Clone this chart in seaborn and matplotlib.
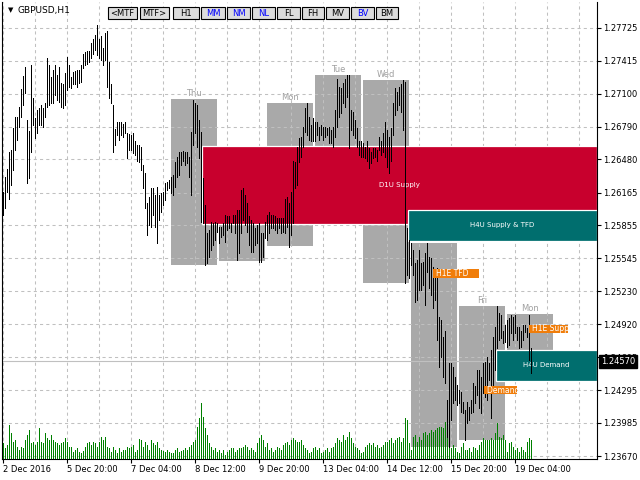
import numpy as np
import pandas as pd
import matplotlib
matplotlib.use("Agg")
import matplotlib.pyplot as plt
from matplotlib.patches import Rectangle
import matplotlib.transforms as mtransforms
import seaborn as sns

# ---------------- data (GBPUSD H1, one value per hourly bar) ----------------
high = [
    1.2617, 1.2631, 1.2639, 1.2655, 1.2657, 1.2678, 1.2688, 1.2688, 1.2698, 1.2715,
    1.2727, 1.2736, 1.2685, 1.2675, 1.2737, 1.2706, 1.2687, 1.2695, 1.2697, 1.2700,
    1.2697, 1.2701, 1.2744, 1.2737, 1.2726, 1.2733, 1.2737, 1.2728, 1.2736, 1.2720,
    1.2719, 1.2730, 1.2745, 1.2737, 1.2726, 1.2731, 1.2732, 1.2733, 1.2733, 1.2737,
    1.2748, 1.2750, 1.2751, 1.2751, 1.2758, 1.2762, 1.2766, 1.2775, 1.2762, 1.2765,
    1.2754, 1.2768, 1.2770, 1.2740, 1.2719, 1.2700, 1.2677, 1.2683, 1.2683, 1.2683,
    1.2682, 1.2683, 1.2673, 1.2672, 1.2671, 1.2673, 1.2665, 1.2662, 1.2662, 1.2660,
    1.2643, 1.2635, 1.2607, 1.2612, 1.2621, 1.2621, 1.2614, 1.2622, 1.2614, 1.2616,
    1.2617, 1.2626, 1.2627, 1.2629, 1.2631, 1.2633, 1.2646, 1.2650, 1.2655, 1.2655,
    1.2656, 1.2655, 1.2655, 1.2650, 1.2674, 1.2704, 1.2701, 1.2700, 1.2685, 1.2674,
    1.2630, 1.2605, 1.2578, 1.2581, 1.2589, 1.2588, 1.2589, 1.2588, 1.2584, 1.2584,
    1.2588, 1.2595, 1.2594, 1.2594, 1.2588, 1.2595, 1.2595, 1.2600, 1.2600, 1.2619,
    1.2621, 1.2614, 1.2607, 1.2594, 1.2591, 1.2588, 1.2583, 1.2586, 1.2588, 1.2578,
    1.2578, 1.2589, 1.2595, 1.2598, 1.2595, 1.2595, 1.2594, 1.2593, 1.2593, 1.2593,
    1.2593, 1.2611, 1.2612, 1.2607, 1.2617, 1.2647, 1.2646, 1.2660, 1.2668, 1.2669,
    1.2679, 1.2697, 1.2701, 1.2688, 1.2681, 1.2687, 1.2683, 1.2683, 1.2679, 1.2681,
    1.2679, 1.2679, 1.2678, 1.2679, 1.2676, 1.2679, 1.2695, 1.2724, 1.2717, 1.2716,
    1.2720, 1.2724, 1.2728, 1.2728, 1.2695, 1.2693, 1.2685, 1.2678, 1.2665, 1.2665,
    1.2664, 1.2660, 1.2665, 1.2659, 1.2655, 1.2659, 1.2659, 1.2657, 1.2669, 1.2665,
    1.2673, 1.2683, 1.2676, 1.2669, 1.2678, 1.2701, 1.2716, 1.2712, 1.2717, 1.2719,
    1.2723, 1.2721, 1.2583, 1.2572, 1.2569, 1.2562, 1.2550, 1.2553, 1.2562, 1.2550,
    1.2551, 1.2559, 1.2569, 1.2556, 1.2555, 1.2546, 1.2543, 1.2545, 1.2499, 1.2496,
    1.2480, 1.2486, 1.2420, 1.2455, 1.2455, 1.2451, 1.2442, 1.2434, 1.2430, 1.2428,
    1.2418, 1.2411, 1.2418, 1.2414, 1.2420, 1.2436, 1.2433, 1.2449, 1.2449, 1.2442,
    1.2455, 1.2456, 1.2461, 1.2455, 1.2468, 1.2480, 1.2489, 1.2509, 1.2503, 1.2501,
    1.2486, 1.2491, 1.2496, 1.2498, 1.2501, 1.2499, 1.2501, 1.2489, 1.2489, 1.2486,
    1.2491, 1.2491, 1.2488, 1.2501, 1.2469,
]
low = [
    1.2595, 1.2602, 1.2617, 1.2611, 1.2624, 1.2638, 1.2657, 1.2666, 1.2679, 1.2688,
    1.2700, 1.2711, 1.2626, 1.2630, 1.2655, 1.2681, 1.2668, 1.2673, 1.2681, 1.2681,
    1.2679, 1.2688, 1.2698, 1.2700, 1.2701, 1.2701, 1.2709, 1.2704, 1.2702, 1.2698,
    1.2697, 1.2700, 1.2714, 1.2717, 1.2716, 1.2719, 1.2719, 1.2717, 1.2720, 1.2721,
    1.2735, 1.2737, 1.2738, 1.2740, 1.2744, 1.2748, 1.2752, 1.2747, 1.2744, 1.2742,
    1.2737, 1.2742, 1.2717, 1.2706, 1.2701, 1.2655, 1.2662, 1.2671, 1.2666, 1.2671,
    1.2669, 1.2673, 1.2649, 1.2657, 1.2657, 1.2654, 1.2652, 1.2647, 1.2646, 1.2638,
    1.2621, 1.2602, 1.2576, 1.2586, 1.2584, 1.2595, 1.2584, 1.2569, 1.2591, 1.2598,
    1.2605, 1.2610, 1.2619, 1.2621, 1.2616, 1.2614, 1.2622, 1.2631, 1.2633, 1.2643,
    1.2647, 1.2643, 1.2645, 1.2631, 1.2614, 1.2662, 1.2673, 1.2660, 1.2649, 1.2589,
    1.2588, 1.2548, 1.2550, 1.2556, 1.2562, 1.2567, 1.2572, 1.2579, 1.2569, 1.2575,
    1.2576, 1.2570, 1.2581, 1.2583, 1.2579, 1.2588, 1.2578, 1.2553, 1.2559, 1.2578,
    1.2591, 1.2586, 1.2579, 1.2567, 1.2560, 1.2560, 1.2567, 1.2569, 1.2551, 1.2551,
    1.2556, 1.2574, 1.2572, 1.2578, 1.2583, 1.2583, 1.2581, 1.2578, 1.2583, 1.2578,
    1.2579, 1.2578, 1.2584, 1.2565, 1.2576, 1.2588, 1.2621, 1.2624, 1.2646, 1.2650,
    1.2660, 1.2674, 1.2671, 1.2666, 1.2665, 1.2665, 1.2665, 1.2671, 1.2666, 1.2671,
    1.2666, 1.2669, 1.2671, 1.2664, 1.2664, 1.2660, 1.2669, 1.2679, 1.2688, 1.2692,
    1.2701, 1.2698, 1.2707, 1.2659, 1.2676, 1.2671, 1.2668, 1.2660, 1.2652, 1.2650,
    1.2650, 1.2649, 1.2647, 1.2640, 1.2645, 1.2649, 1.2650, 1.2647, 1.2657, 1.2652,
    1.2655, 1.2650, 1.2641, 1.2635, 1.2647, 1.2671, 1.2690, 1.2695, 1.2700, 1.2693,
    1.2676, 1.2531, 1.2539, 1.2536, 1.2548, 1.2539, 1.2513, 1.2515, 1.2524, 1.2524,
    1.2529, 1.2510, 1.2541, 1.2526, 1.2520, 1.2507, 1.2515, 1.2477, 1.2451, 1.2461,
    1.2442, 1.2436, 1.2385, 1.2376, 1.2401, 1.2417, 1.2420, 1.2415, 1.2417, 1.2409,
    1.2408, 1.2382, 1.2398, 1.2401, 1.2408, 1.2409, 1.2417, 1.2425, 1.2413, 1.2408,
    1.2427, 1.2423, 1.2420, 1.2439, 1.2403, 1.2433, 1.2449, 1.2469, 1.2477, 1.2479,
    1.2474, 1.2475, 1.2470, 1.2472, 1.2484, 1.2477, 1.2484, 1.2477, 1.2469, 1.2470,
    1.2477, 1.2485, 1.2480, 1.2458, 1.2446,
]
volume = [
    1570, 1070, 1400, 3400, 2570, 1730, 1900, 1230, 900, 1230, 1070,
    1900, 2400, 2900, 1570, 1730, 1400, 1730, 3070, 1730, 1570, 2570, 2070, 1900,
    2400, 1900, 1730, 1570, 1400, 1570, 1730, 2070, 1730, 1230,
    1230, 730, 900, 1070, 730, 570, 830, 1230, 1570, 1730, 1400, 1730,
    1570, 1230, 1730, 2230, 1900, 2230, 1230, 1070, 730, 1230, 900, 570, 1070, 730, 900,
    900, 1230, 1070, 1230, 1400, 730, 900, 1970, 1900, 1230, 1730, 1400, 900,
    1900, 1570, 1400, 1730, 1070, 900, 830, 730, 900, 730, 630, 570,
    900, 1070, 730, 830, 900, 1070, 900, 1230, 1400, 1730,
    1900, 3230, 4070, 5570, 4230, 3070, 2400, 1570, 1230,
    900, 1070, 730, 900, 570, 900, 400, 730, 900, 1070,
    1070, 730, 900, 1070, 1070, 1230, 1400, 1230, 900, 1070, 900, 730,
    1570, 2070, 2400, 1900, 1230, 1570, 900, 1070, 730, 900, 1230, 1070,
    900, 1400, 1570, 1730, 1400, 1900, 2070, 1900, 1730, 1730, 1900, 1400,
    1070, 900, 570, 730, 1070, 1230, 900, 1070, 570, 730, 900, 1070, 730,
    1070, 1230, 1570, 2070, 1900, 1730, 2400, 1900, 2230, 2730, 2070, 1570,
    1230, 1070, 900, 570, 730, 1230, 1400, 1570, 1400, 1570, 1230, 1400, 1070,
    1230, 1400, 1730, 1730, 1900, 2070, 1570, 1900, 2070, 2230, 1730, 2070, 4070, 3900,
    1570, 900, 2230, 2400, 1730, 2230, 1900, 2570, 2730, 2400, 2570, 2900, 2730, 2900,
    3070, 3230, 3230, 3070, 3730, 2900, 2070, 1070,
    1400, 1070, 730, 570, 1230, 1570, 900, 900, 1070, 730, 1230, 1070, 900, 1400,
    1730, 2070, 1900, 1900, 1900, 2070, 1900, 2570, 3570, 2230, 2070, 2400, 1900, 730,
    1570, 1730, 1230, 900, 1070, 730, 1230, 900, 730, 1730, 2070, 1900,
]
bar_index = list(range(len(high)))

price_ticks = [1.27725, 1.27415, 1.27100, 1.26790, 1.26480, 1.26165, 1.25855,
               1.25545, 1.25230, 1.24920, 1.24605, 1.24295, 1.23985, 1.23670]
time_tick_bars = [0, 32, 64, 96, 128, 160, 192, 224, 256]
time_tick_labels = ["2 Dec 2016", "5 Dec 20:00", "7 Dec 04:00", "8 Dec 12:00",
                    "9 Dec 20:00", "13 Dec 04:00", "14 Dec 12:00", "15 Dec 20:00",
                    "19 Dec 04:00"]

# daily range boxes
day_names = ["Thu", "Fri", "Mon", "Tue", "Wed", "Thu", "Fri", "Mon"]
day_first_bar = [84, 108, 132, 156, 180, 204, 228, 252]
day_last_bar = [107, 131, 155, 179, 203, 227, 251, 275]
day_top = [1.2705, 1.2621, 1.2701, 1.2728, 1.2723, 1.2569, 1.2509, 1.2502]
day_bottom = [1.2548, 1.2552, 1.2566, 1.2650, 1.2531, 1.2376, 1.2382, 1.2468]

# supply / demand zones (extend to the right edge)
zone_names = ["D1U Supply", "H4U Supply & TFD", "H4U Demand"]
zone_start_bar = [99.5, 202.5, 246.5]
zone_top = [1.2661, 1.2600, 1.2468]
zone_bottom = [1.2587, 1.2571, 1.2438]
zone_colors = ["#C8002D", "#006E6E", "#006E6E"]

# small orange tags
tag_names = ["H1E TFD", "H1E Supply", "Demand &"]
tag_start_bar = [215, 263, 240.5]
tag_end_bar = [238, 282.5, 257]
tag_top = [1.2544, 1.2491, 1.2433]
tag_bottom = [1.2536, 1.2484, 1.2426]

last_price = 1.24570

buttons = ["<MTF", "MTF>", "H1", "MM", "NM", "NL", "FL", "FH", "MV", "BV", "BM"]
button_on = [False, False, False, True, True, True, False, False, False, True, False]

# ---------------- figure ----------------
sns.set_theme(style="white")
plt.rcParams['font.family'] = ['DejaVu Sans']

W, H = 640, 480
fig = plt.figure(figsize=(6.4, 4.8), dpi=100)
fig.patch.set_facecolor("white")

L, R, T, B = 2, 597, 2, 459
pos = [L / W, 1 - B / H, (R - L) / W, (B - T) / H]
ax = fig.add_axes(pos)
vax = fig.add_axes(pos, sharex=ax)
pax = fig.add_axes(pos, sharex=ax, sharey=ax)

XMIN, XMAX = -0.5, 297
YLO, YHI = 1.2364327, 1.2797106
ONE_PX = 72.0 / 100.0

ax.set_facecolor("white")
grid_kw = dict(color="#C0C0C0", linestyle=(0, (3, 3)), linewidth=0.75)

# day boxes (under grid)
for name, a, b, t, bt in zip(day_names, day_first_bar, day_last_bar, day_top, day_bottom):
    ax.add_patch(Rectangle((a, bt), b - a, t - bt, facecolor="#A9A9A9",
                           edgecolor="none", zorder=0.2))
    ax.annotate(name, xy=((a + b) / 2, t), xytext=(0, 0.8), textcoords="offset points",
                ha="center", va="bottom", fontsize=6, color="#A0A0A0", zorder=0.3)

ax.axhline(last_price, color="#C0C0C0", linewidth=0.8, zorder=0.9)

# zones (over grid)
for name, s, t, bt, c in zip(zone_names, zone_start_bar, zone_top, zone_bottom, zone_colors):
    ax.add_patch(Rectangle((s, bt), XMAX - s, t - bt, facecolor=c,
                           edgecolor="white", linewidth=0.9, zorder=1.0))
    ax.text((s + XMAX) / 2, (t + bt) / 2, name, ha="center", va="center",
            fontsize=5, color="white", zorder=1.1)

# volume bars (seaborn histogram weighted by tick volume, green, 1 px wide)
vdf = pd.DataFrame({"bar": bar_index, "volume": volume})
sns.histplot(data=vdf, x="bar", weights="volume", discrete=True, shrink=0.5,
             element="bars", fill=True, color="#008000", alpha=1.0, linewidth=0,
             ax=vax)
for p in vax.patches:
    p.set_facecolor((0.0, 0.5, 0.0, 1.0))
    p.set_edgecolor("none")
    p.set_antialiased(False)
vax.set_ylim(0, 45700)
vax.set_axis_off()

# price bars
pax.vlines(bar_index, low, high, colors="black", linewidth=ONE_PX, antialiased=False, zorder=2)
for name, a, b, t, bt in zip(tag_names, tag_start_bar, tag_end_bar, tag_top, tag_bottom):
    rect = Rectangle((a, bt), b - a, t - bt, facecolor="#F07D0A", edgecolor="none", zorder=3)
    pax.add_patch(rect)
    txt = pax.text(a + 1.5, (t + bt) / 2, name, ha="left", va="center", fontsize=5.5,
                   color="white", zorder=3.1)
    txt.set_clip_path(rect)
pax.set_axis_off()

# axes ranges, ticks, grid
ax.set_xlim(XMIN, XMAX)
ax.set_ylim(YLO, YHI)
ax.yaxis.tick_right()
ax.set_yticks(price_ticks)
ax.set_yticklabels([f"{p:.5f}" for p in price_ticks])
ax.set_xticks(time_tick_bars)
ax.set_xticklabels(time_tick_labels)
ax.set_xticks(list(range(16, 297, 16)), minor=True)
for lab in ax.get_xticklabels():
    lab.set_horizontalalignment("left")
ax.tick_params(axis="y", which="major", direction="out", length=3, width=0.8,
               pad=1.5, labelsize=6, colors="black", right=True, left=False)
ax.tick_params(axis="x", which="major", direction="out", length=3, width=0.8,
               pad=1.5, labelsize=6, colors="black", bottom=True)
ax.tick_params(axis="x", which="minor", length=0)
ax.set_axisbelow(True)
ax.grid(True, which="major", axis="both", **grid_kw)
ax.grid(True, which="minor", axis="x", **grid_kw)
ax.set_xlabel("")
ax.set_ylabel("")
for side in ["left", "right", "bottom"]:
    ax.spines[side].set_visible(True)
    ax.spines[side].set_color("black")
    ax.spines[side].set_linewidth(0.8)
ax.spines["top"].set_visible(False)

# current price label
ax.annotate(f"{last_price:.5f}", xy=(1.0, last_price),
            xycoords=mtransforms.blended_transform_factory(ax.transAxes, ax.transData),
            xytext=(2.6, 0), textcoords="offset points", ha="left", va="center",
            fontsize=6, color="white", zorder=10, annotation_clip=False,
            bbox=dict(boxstyle="square,pad=0.25", facecolor="black", edgecolor="black"))

# title and toolbar buttons
fig.text(8 / W, 1 - 10 / H, "\u25BC", fontsize=5, va="center", ha="left", color="black")
fig.text(18 / W, 1 - 10 / H, "GBPUSD,H1", fontsize=6.5, va="center", ha="left", color="black")
btn_left = [108, 140, 173, 201, 227, 252, 277, 302, 326, 351, 376]
btn_right = [137, 169, 199, 225, 250, 275, 300, 324, 349, 374, 398]
by0, by1 = 7, 19
for name, on, x0, x1 in zip(buttons, button_on, btn_left, btn_right):
    fig.add_artist(Rectangle((x0 / W, 1 - by1 / H), (x1 - x0) / W, (by1 - by0) / H,
                             transform=fig.transFigure, facecolor="#DCDCDC",
                             edgecolor="black", linewidth=0.8))
    fig.text((x0 + x1) / 2 / W, 1 - (by0 + by1) / 2 / H, name, ha="center", va="center",
             fontsize=6, color="#0000FF" if on else "black")

fig.savefig("out.png", dpi=100, facecolor="white")
